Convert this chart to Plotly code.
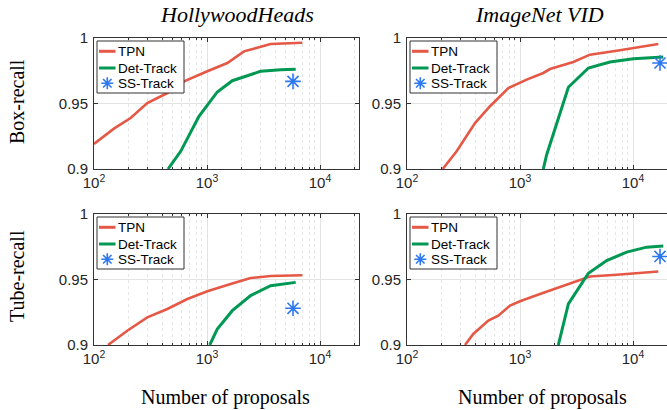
import plotly.graph_objects as go

W, H = 667, 410

# ---------------- data ----------------
# HollywoodHeads, Box-recall
hh_box_tpn_x = [100, 150, 211, 296, 446, 626, 1007, 1514, 2125, 2786, 3656, 6980]
hh_box_tpn_y = [0.9191, 0.9308, 0.9389, 0.9504, 0.9580, 0.9669, 0.9746, 0.9809, 0.9898, 0.9924, 0.9954, 0.9964]
hh_box_det_x = [452, 585, 849, 1233, 1675, 2985, 4485, 6095]
hh_box_det_y = [0.9000, 0.9135, 0.9402, 0.9588, 0.9674, 0.9746, 0.9758, 0.9761]
hh_box_ss_x = [5770]
hh_box_ss_y = [0.9669]

# ImageNet VID, Box-recall
vid_box_tpn_x = [207, 275, 400, 543, 789, 1146, 1608, 1842, 2965, 4160, 7180, 12330, 16750]
vid_box_tpn_y = [0.9000, 0.9135, 0.9351, 0.9479, 0.9618, 0.9682, 0.9733, 0.9763, 0.9817, 0.9873, 0.9903, 0.9937, 0.9954]
vid_box_det_x = [1608, 1722, 2680, 4030, 6250, 10070, 18540]
vid_box_det_y = [0.9000, 0.9109, 0.9624, 0.9771, 0.9817, 0.9842, 0.9855]
vid_box_ss_x = [17340]
vid_box_ss_y = [0.9809]

# HollywoodHeads, Tube-recall
hh_tube_tpn_x = [133, 197, 296, 446, 670, 1007, 1619, 2432, 3656, 6980]
hh_tube_tpn_y = [0.9000, 0.9109, 0.9211, 0.9275, 0.9351, 0.9410, 0.9466, 0.9511, 0.9527, 0.9532]
hh_tube_det_x = [1057, 1233, 1675, 2432, 3656, 6095]
hh_tube_det_y = [0.9000, 0.9122, 0.9262, 0.9377, 0.9453, 0.9478]
hh_tube_ss_x = [5770]
hh_tube_ss_y = [0.9280]

# ImageNet VID, Tube-recall
vid_tube_tpn_x = [326, 386, 525, 643, 816, 1000, 1503, 2110, 2965, 4160, 7180, 10790, 16750]
vid_tube_tpn_y = [0.9000, 0.9084, 0.9186, 0.9224, 0.9301, 0.9334, 0.9390, 0.9436, 0.9480, 0.9523, 0.9536, 0.9548, 0.9561]
vid_tube_det_x = [2183, 2680, 4030, 5850, 8790, 13210, 18540]
vid_tube_det_y = [0.9000, 0.9314, 0.9548, 0.9645, 0.9709, 0.9747, 0.9755]
vid_tube_ss_x = [17340]
vid_tube_ss_y = [0.9676]

series_names = ["TPN", "Det-Track", "SS-Track"]
col_titles = ["HollywoodHeads", "ImageNet VID"]
row_titles = ["Box-recall", "Tube-recall"]
x_title = "Number of proposals"
x_tick_vals = [100, 1000, 10000]
x_tick_text = ["10<sup>2</sup>", "10<sup>3</sup>", "10<sup>4</sup>"]
y_tick_vals = [0.9, 0.95, 1.0]
y_tick_text = ["0.9", "0.95", "1"]
minor_vals = [m * 10 ** e for e in (2, 3, 4) for m in range(2, 10)]

# ---------------- styling ----------------
RED = "rgb(230,88,70)"
GREEN = "rgb(0,152,82)"
BLUE = "rgb(45,120,240)"
AX = "#333333"
GRID = "#e3e3e3"
SANS = "Liberation Sans"
SERIF = "Liberation Serif"

def px_x(p):
    return p / W

def px_y(p):
    return 1 - p / H

panels = [
    ((hh_box_tpn_x, hh_box_tpn_y), (hh_box_det_x, hh_box_det_y), (hh_box_ss_x, hh_box_ss_y),
     "x", "y", (94, 359), (38, 169), 2 + 265 / 113, True),
    ((vid_box_tpn_x, vid_box_tpn_y), (vid_box_det_x, vid_box_det_y), (vid_box_ss_x, vid_box_ss_y),
     "x2", "y2", (407, 667), (38, 169), 2 + 260 / 113, False),
    ((hh_tube_tpn_x, hh_tube_tpn_y), (hh_tube_det_x, hh_tube_det_y), (hh_tube_ss_x, hh_tube_ss_y),
     "x3", "y3", (94, 359), (214, 345), 2 + 265 / 113, True),
    ((vid_tube_tpn_x, vid_tube_tpn_y), (vid_tube_det_x, vid_tube_det_y), (vid_tube_ss_x, vid_tube_ss_y),
     "x4", "y4", (407, 667), (214, 345), 2 + 260 / 113, False),
]

fig = go.Figure()
layout = {}
shapes = []
annotations = []
for i, (tpn, det, ss, xa, ya, xd, yd, xmax, mirror_y) in enumerate(panels):
    fig.add_trace(go.Scatter(x=tpn[0], y=tpn[1], mode="lines", name=series_names[0],
                             line=dict(color=RED, width=2.6), xaxis=xa, yaxis=ya,
                             showlegend=False))
    fig.add_trace(go.Scatter(x=det[0], y=det[1], mode="lines", name=series_names[1],
                             line=dict(color=GREEN, width=3), xaxis=xa, yaxis=ya,
                             showlegend=False))
    fig.add_trace(go.Scatter(x=ss[0], y=ss[1], mode="markers", name=series_names[2],
                             marker=dict(symbol="asterisk-open", size=13, color=BLUE,
                                         line=dict(color=BLUE, width=1.6)),
                             xaxis=xa, yaxis=ya, showlegend=False))
    suffix = "" if i == 0 else str(i + 1)
    layout["xaxis" + suffix] = dict(
        type="log", range=[2, xmax], domain=[px_x(xd[0]), px_x(xd[1])],
        anchor=ya, tickvals=x_tick_vals, ticktext=x_tick_text,
        tickfont=dict(family=SANS, size=15, color="#262626"),
        showline=True, linecolor=AX, linewidth=1, mirror="ticks",
        ticks="inside", ticklen=4, tickcolor=AX, automargin=False,
        showgrid=True, gridcolor=GRID, gridwidth=1, zeroline=False,
        minor=dict(tickvals=minor_vals, showgrid=True, gridcolor="#e6e6e6",
                   griddash="dot", ticks="inside", ticklen=2, tickcolor=AX),
    )
    layout["yaxis" + suffix] = dict(
        range=[0.9, 1.0], domain=[px_y(yd[1]), px_y(yd[0])], anchor=xa,
        tickvals=y_tick_vals, ticktext=y_tick_text,
        tickfont=dict(family=SANS, size=15, color="#262626"),
        showline=True, linecolor=AX, linewidth=1,
        mirror="ticks" if mirror_y else False, automargin=False,
        ticks="inside", ticklen=4, tickcolor=AX, ticklabelstandoff=2,
        showgrid=True, gridcolor=GRID, gridwidth=1, zeroline=False,
    )

    # ---- compact MATLAB-style legend box in the upper-left corner ----
    L, T = xd[0], yd[0]
    shapes.append(dict(type="rect", xref="paper", yref="paper", layer="above",
                       x0=px_x(L + 3), x1=px_x(L + 90), y0=px_y(T + 55), y1=px_y(T + 3),
                       fillcolor="white", line=dict(color=AX, width=1)))
    item_y = [T + 13.3, T + 30, T + 45.3]
    for yy, col in zip(item_y[:2], (RED, GREEN)):
        shapes.append(dict(type="line", xref="paper", yref="paper", layer="above",
                           x0=px_x(L + 5), x1=px_x(L + 21.5), y0=px_y(yy), y1=px_y(yy),
                           line=dict(color=col, width=3)))
    cx, cy, a = L + 13.3, item_y[2], 6.0
    d = a * 0.707
    path = (f"M{px_x(cx - a)},{px_y(cy)} L{px_x(cx + a)},{px_y(cy)} "
            f"M{px_x(cx)},{px_y(cy - a)} L{px_x(cx)},{px_y(cy + a)} "
            f"M{px_x(cx - d)},{px_y(cy - d)} L{px_x(cx + d)},{px_y(cy + d)} "
            f"M{px_x(cx - d)},{px_y(cy + d)} L{px_x(cx + d)},{px_y(cy - d)}")
    shapes.append(dict(type="path", xref="paper", yref="paper", layer="above", path=path,
                       line=dict(color=BLUE, width=1.6)))
    for yy, name in zip(item_y, series_names):
        annotations.append(dict(text=name, x=px_x(L + 21.5), y=px_y(yy), xref="paper",
                                yref="paper", showarrow=False, xanchor="left",
                                yanchor="middle",
                                font=dict(family=SANS, size=13.5, color="black")))

for txt, cx in zip(col_titles, (237, 539)):
    annotations.append(dict(text="<i>" + txt + "</i>", x=px_x(cx), y=px_y(14),
                            xref="paper", yref="paper", showarrow=False,
                            xanchor="center", yanchor="middle",
                            font=dict(family=SERIF, size=22, color="black")))
for txt, cy in zip(row_titles, (102, 276)):
    annotations.append(dict(text=txt, x=px_x(17), y=px_y(cy), xref="paper", yref="paper",
                            showarrow=False, textangle=-90, xanchor="center", yanchor="middle",
                            font=dict(family=SERIF, size=20, color="black")))
for cx in (226, 542):
    annotations.append(dict(text=x_title, x=px_x(cx), y=px_y(397), xref="paper", yref="paper",
                            showarrow=False, xanchor="center", yanchor="middle",
                            font=dict(family=SERIF, size=20, color="black")))

fig.update_layout(
    width=W, height=H, margin=dict(l=0, r=0, t=0, b=0, autoexpand=False),
    paper_bgcolor="white", plot_bgcolor="white", showlegend=False,
    shapes=shapes, annotations=annotations, **layout,
)

fig.write_html("out.html", config={"displayModeBar": False},
               post_script="document.body.style.margin='0';document.body.style.overflow='hidden';")
